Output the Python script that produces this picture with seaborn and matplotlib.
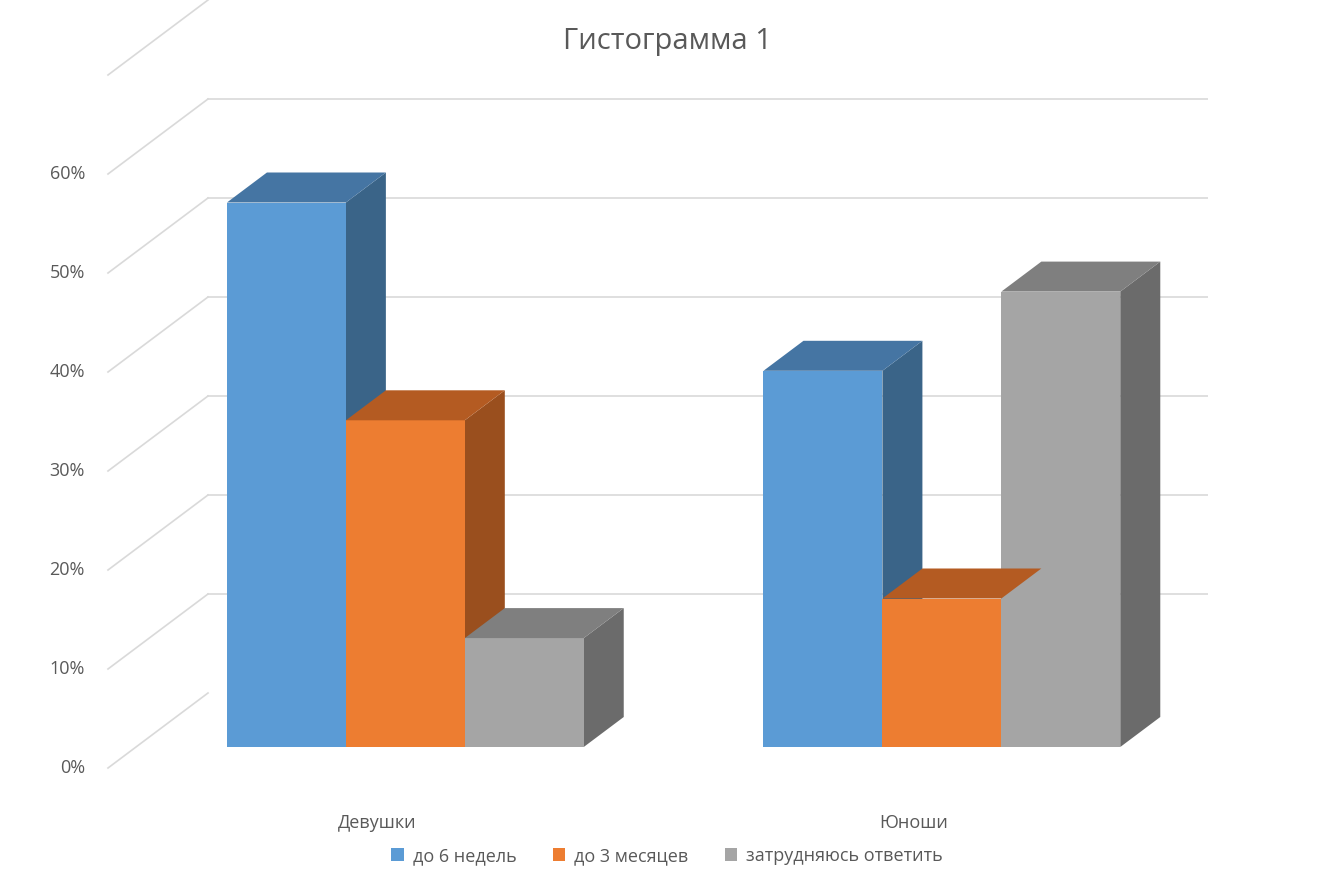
import matplotlib
matplotlib.use("Agg")
import matplotlib.pyplot as plt
import matplotlib.transforms as mtransforms
from matplotlib.patches import Polygon, Patch
import numpy as np
import pandas as pd
import seaborn as sns

categories = ["Девушки", "Юноши"]
series = ["до 6 недель", "до 3 месяцев", "затрудняюсь ответить"]
values_6w = [0.55, 0.38]
values_3m = [0.33, 0.15]
values_unk = [0.11, 0.46]
ticks = [0, 0.1, 0.2, 0.3, 0.4, 0.5, 0.6]
tick_labels = ["0%", "10%", "20%", "30%", "40%", "50%", "60%"]

front = ["#5B9BD5", "#ED7D31", "#A5A5A5"]
tops = ["#4575A3", "#B45B22", "#7F7F7F"]
sides = ["#3A6488", "#9A4F1E", "#6B6B6B"]
txt = "#595959"
plt.rcParams["font.family"] = "Open Sans"

df = pd.DataFrame({
    "cat": categories * 3,
    "ser": [series[0]] * 2 + [series[1]] * 2 + [series[2]] * 2,
    "val": values_6w + values_3m + values_unk,
})

W, H = 1334, 889
fig = plt.figure(figsize=(W / 100, H / 100), dpi=100)
ax = fig.add_axes([136 / W, (H - 747) / H, (1208 - 136) / W, 693 / H])
sns.barplot(data=df, x="cat", y="val", hue="ser", palette=front, width=0.665,
            saturation=1, ax=ax, legend=False, zorder=3, linewidth=0)
ax.set_xlim(-0.502, 1.496)
ax.set_ylim(0, 0.7)
ax.axis("off")

def off(dx, dy):
    return ax.transData + mtransforms.ScaledTranslation(dx / 100, dy / 100, fig.dpi_scale_trans)

grid = "#D9D9D9"
for v in ticks + [0.7]:
    if v > 0:
        ax.plot([-0.502, 1.496], [v, v], color=grid, lw=1.2, transform=off(72, 54), zorder=0)
    # diagonal
    p0 = off(-28, -21).transform((-0.502, v))
    p1 = off(72, 54).transform((-0.502, v))
    fig.add_artist(plt.Line2D([p0[0] / W, p1[0] / W], [p0[1] / H, p1[1] / H], color=grid, lw=1.2, zorder=0))
for v, lab in zip(ticks, tick_labels):
    ax.text(-0.502, v, lab, transform=off(-51, -21), ha="right", va="center", fontsize=13, color=txt)

# 3D faces
inv = ax.transData.inverted()
patches = sorted(ax.patches, key=lambda p: p.get_x())
for p in patches:
    x0, x1, h = p.get_x(), p.get_x() + p.get_width(), p.get_height()
    c = front.index(matplotlib.colors.to_hex(p.get_facecolor()).upper()) if matplotlib.colors.to_hex(p.get_facecolor()).upper() in front else 0
    d = lambda x, y: ax.transData.transform((x, y))
    A, B, C0 = d(x0, h), d(x1, h), d(x1, 0)
    o = np.array([40, 30])
    top = [A, B, B + o, A + o]
    side = [B, C0, C0 + o, B + o]
    for pts, col in ((top, tops[c]), (side, sides[c])):
        ax.add_patch(Polygon(inv.transform(np.array(pts)), closed=True, facecolor=col,
                             edgecolor="none", zorder=2 if pts is side else 4))

for i, cat in enumerate(categories):
    ax.text(i, 0, cat, transform=off(-28, -76), ha="center", va="center", fontsize=13, color=txt)

fig.text(667 / W, 1 - 42 / H, "Гистограмма 1", ha="center", va="center", fontsize=21, color=txt)
handles = [Patch(facecolor=c) for c in front]
fig.legend(handles, series, loc="center", bbox_to_anchor=(667 / W, 1 - 856 / H), ncol=3,
           frameon=False, fontsize=13, labelcolor=txt, handlelength=0.7, handleheight=0.7,
           columnspacing=2.0, handletextpad=0.5)
fig.savefig("out.png", dpi=100)
